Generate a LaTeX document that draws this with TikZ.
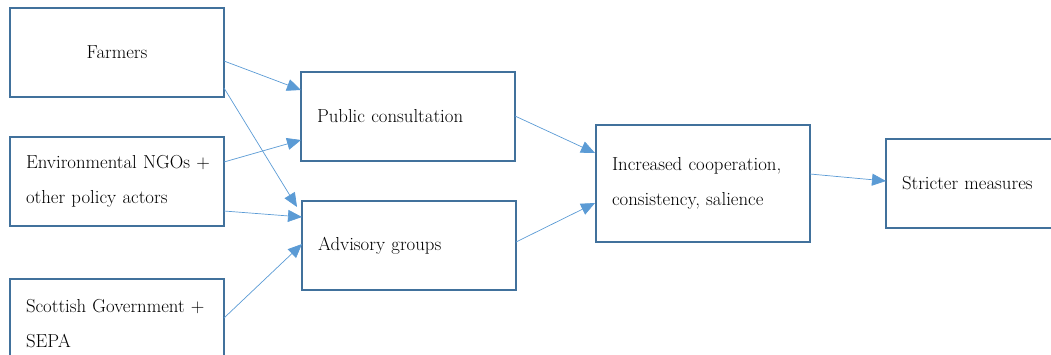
\documentclass[tikz,border=0pt]{standalone}
\usetikzlibrary{arrows.meta,calc}
\definecolor{boxc}{RGB}{65,113,156}
\definecolor{arrc}{RGB}{91,155,213}
\begin{document}
\begin{tikzpicture}[x=1pt,y=-1pt,
  box/.style={draw=boxc,line width=1.8pt,minimum width=214pt,minimum height=89pt,inner sep=0pt,outer sep=0pt,font=\fontsize{18.8}{35}\selectfont},
  lbox/.style={box,align=left,text width=182pt},
  conn/.style={draw=arrc,line width=0.7pt,-{Triangle[length=14pt,width=12pt]}}]
\useasboundingbox (0,0) rectangle (1051,354);
\clip (0,0) rectangle (1051,354);
\node[box] (farm) at (117,52.5) {Farmers};
\node[lbox] (ngo) at (117,181.5) {\mbox{Environmental NGOs +}\\other policy actors};
\node[lbox] (sg) at (117,323.5) {\mbox{Scottish Government +}\\SEPA};
\node[lbox] (pub) at (408,116.5) {Public consultation};
\node[lbox] (adv) at (409,245.5) {Advisory groups};
\node[lbox,minimum height=117pt] (inc) at (703,183.5) {\mbox{Increased cooperation,}\\\mbox{consistency, salience}};
\node[lbox] (str) at (993,183.5) {Stricter measures};
\draw[conn] ($(farm.north east)+(0,53)$) -- ($(pub.north west)+(0,18)$);
\draw[conn] ($(farm.north east)+(0,80)$) -- ($(adv.north west)+(-5,6)$);
\draw[conn] ($(ngo.north east)+(0,25)$) -- ($(pub.south west)+(0,-21)$);
\draw[conn] ($(ngo.north east)+(0,74)$) -- ($(adv.north west)+(0,16)$);
\draw[conn] ($(sg.north east)+(0,39)$) -- ($(adv.north west)+(0,43)$);
\draw[conn] ($(pub.north east)+(0,44)$) -- ($(inc.north west)+(-1,28)$);
\draw[conn] ($(adv.north east)+(0,41)$) -- ($(inc.north west)+(-1,78)$);
\draw[conn] ($(inc.north east)+(0,49)$) -- ($(str.north west)+(0,42)$);
\end{tikzpicture}
\end{document}
